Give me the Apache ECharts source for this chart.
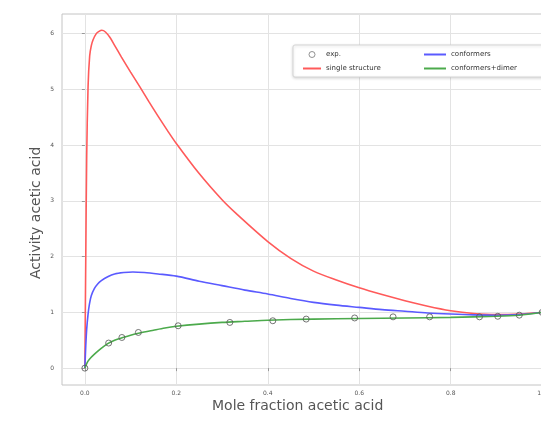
<!DOCTYPE html>
<html>
<head>
    <meta charset="utf-8">
    <title>Activity acetic acid</title>
    <script src="https://cdn.jsdelivr.net/npm/echarts@6/dist/echarts.min.js"></script>
    <style>
        html, body { margin: 0; padding: 0; background: #fff; }
        #chart { width: 541px; height: 424px; }
    </style>
</head>
<body>
<div id="chart"></div>
<script>
    // experimental points
    var expX = [0, 0.052, 0.081, 0.117, 0.204, 0.317, 0.411, 0.484, 0.59, 0.674, 0.754, 0.863, 0.903, 0.95, 1.0];
    var expY = [0, 0.45, 0.55, 0.64, 0.76, 0.82, 0.85, 0.88, 0.90, 0.92, 0.92, 0.92, 0.93, 0.95, 1.0];

    // single structure
    var singleX = [0, 0.002, 0.004, 0.007, 0.0105, 0.014, 0.018, 0.025, 0.031, 0.037, 0.045, 0.055, 0.065, 0.08, 0.1,
        0.12, 0.14, 0.16, 0.18, 0.2, 0.25, 0.3, 0.33, 0.4, 0.45, 0.5, 0.55, 0.6, 0.65, 0.7, 0.75, 0.8, 0.85, 0.9, 0.95, 1.0];
    var singleY = [0, 2.0, 3.8, 5.05, 5.6, 5.78, 5.89, 6.0, 6.04, 6.06, 6.03, 5.93, 5.79, 5.58, 5.31,
        5.05, 4.78, 4.52, 4.27, 4.03, 3.49, 3.02, 2.78, 2.27, 1.97, 1.74, 1.58, 1.44, 1.32, 1.21, 1.11, 1.03, 0.98, 0.96, 0.97, 1.0];

    // conformers
    var confX = [0, 0.002, 0.004, 0.007, 0.01, 0.014, 0.021, 0.028, 0.036, 0.05, 0.065, 0.085, 0.105, 0.13, 0.16, 0.2,
        0.25, 0.3, 0.35, 0.4, 0.45, 0.5, 0.55, 0.6, 0.65, 0.7, 0.75, 0.8, 0.85, 0.9, 0.95, 1.0];
    var confY = [0, 0.4, 0.7, 0.97, 1.15, 1.3, 1.43, 1.51, 1.57, 1.64, 1.69, 1.715, 1.725, 1.715, 1.69, 1.65,
        1.56, 1.48, 1.40, 1.33, 1.25, 1.18, 1.13, 1.09, 1.05, 1.02, 0.99, 0.97, 0.955, 0.95, 0.96, 1.0];

    // conformers+dimer
    var dimerX = [0, 0.005, 0.01, 0.021, 0.035, 0.05, 0.065, 0.08, 0.1, 0.12, 0.15, 0.175, 0.2, 0.25, 0.3, 0.35, 0.4,
        0.5, 0.6, 0.7, 0.8, 0.9, 0.95, 1.0];
    var dimerY = [0, 0.1, 0.16, 0.25, 0.35, 0.44, 0.5, 0.54, 0.59, 0.63, 0.68, 0.72, 0.75, 0.79, 0.82, 0.84, 0.86,
        0.88, 0.89, 0.90, 0.91, 0.93, 0.95, 1.0];

    var xTicks = [0, 0.2, 0.4, 0.6, 0.8, 1.0];
    var yTicks = [0, 1, 2, 3, 4, 5, 6];

    function pairs(xs, ys) {
        return xs.map(function (x, i) { return [x, ys[i]]; });
    }

    var chart = echarts.init(document.getElementById('chart'));
    var font = 'DejaVu Sans';
    var noSymbol = { opacity: 0, borderWidth: 0 };

    var option = {
        animation: false,
        textStyle: { fontFamily: font },
        grid: {
            left: 62, top: 14, width: 503, height: 371,
            outerBoundsMode: 'none', containLabel: false,
            show: true, borderColor: '#c4c4c4', borderWidth: 1, backgroundColor: '#fff'
        },
        xAxis: {
            type: 'value', min: -0.05, max: 1.05, interval: 0.2,
            axisLine: { show: false },
            axisTick: { show: true, length: 3, lineStyle: { color: '#999' }, customValues: xTicks },
            axisLabel: {
                fontSize: 6, color: '#555', margin: 5, customValues: xTicks,
                formatter: function (v) { return v.toFixed(1); }
            },
            splitLine: { show: true, lineStyle: { color: '#e3e3e3', width: 1 } }
        },
        yAxis: {
            type: 'value', min: -0.3025, max: 6.3525, interval: 1,
            axisLine: { show: false },
            axisTick: { show: true, length: 3, lineStyle: { color: '#999' }, customValues: yTicks },
            axisLabel: { fontSize: 6, color: '#555', margin: 8, customValues: yTicks },
            splitLine: { show: true, lineStyle: { color: '#e3e3e3', width: 1 } }
        },
        legend: [
            {
                orient: 'vertical', left: 297, top: 46, itemWidth: 18, itemHeight: 6, itemGap: 7,
                textStyle: { fontSize: 7, color: '#333', fontFamily: font },
                data: [{ name: 'exp.', itemStyle: { borderWidth: 0.8 } }, { name: 'single structure', itemStyle: noSymbol }]
            },
            {
                orient: 'vertical', left: 418, top: 46, itemWidth: 22, itemHeight: 6, itemGap: 7,
                textStyle: { fontSize: 7, color: '#333', fontFamily: font },
                data: [{ name: 'conformers', itemStyle: noSymbol }, { name: 'conformers+dimer', itemStyle: noSymbol }]
            }
        ],
        graphic: [
            {
                type: 'rect', z: 3,
                shape: { x: 293, y: 45, width: 260, height: 32, r: 2 },
                style: { fill: '#fff', stroke: '#d6d6d6', lineWidth: 1, shadowBlur: 3, shadowColor: 'rgba(0,0,0,0.15)', shadowOffsetY: 1 }
            },
            {
                type: 'text', left: 212, top: 399,
                style: { text: 'Mole fraction acetic acid', fontSize: 14, fill: '#555', fontFamily: font }
            },
            {
                type: 'text', x: 29, y: 279, rotation: Math.PI / 2,
                style: { text: 'Activity acetic acid', fontSize: 14, fill: '#555', fontFamily: font }
            }
        ],
        series: [
            {
                name: 'exp.', type: 'scatter', data: pairs(expX, expY), z: 5,
                symbol: 'circle', symbolSize: 6,
                itemStyle: { color: 'rgba(255,255,255,0)', borderColor: '#555', borderWidth: 1 }
            },
            {
                name: 'single structure', type: 'line', data: pairs(singleX, singleY),
                symbol: 'none', smooth: 0.3, color: '#ff5a5a', lineStyle: { width: 1.6, color: '#ff5a5a' }
            },
            {
                name: 'conformers', type: 'line', data: pairs(confX, confY),
                symbol: 'none', smooth: 0.3, color: '#5a5aff', lineStyle: { width: 1.6, color: '#5a5aff' }
            },
            {
                name: 'conformers+dimer', type: 'line', data: pairs(dimerX, dimerY),
                symbol: 'none', smooth: 0.3, color: '#4caa4c', lineStyle: { width: 1.6, color: '#4caa4c' }
            }
        ]
    };
    chart.setOption(option);

    window.onresize = function () {
        chart.resize();
    };
</script>
</body>
</html>
